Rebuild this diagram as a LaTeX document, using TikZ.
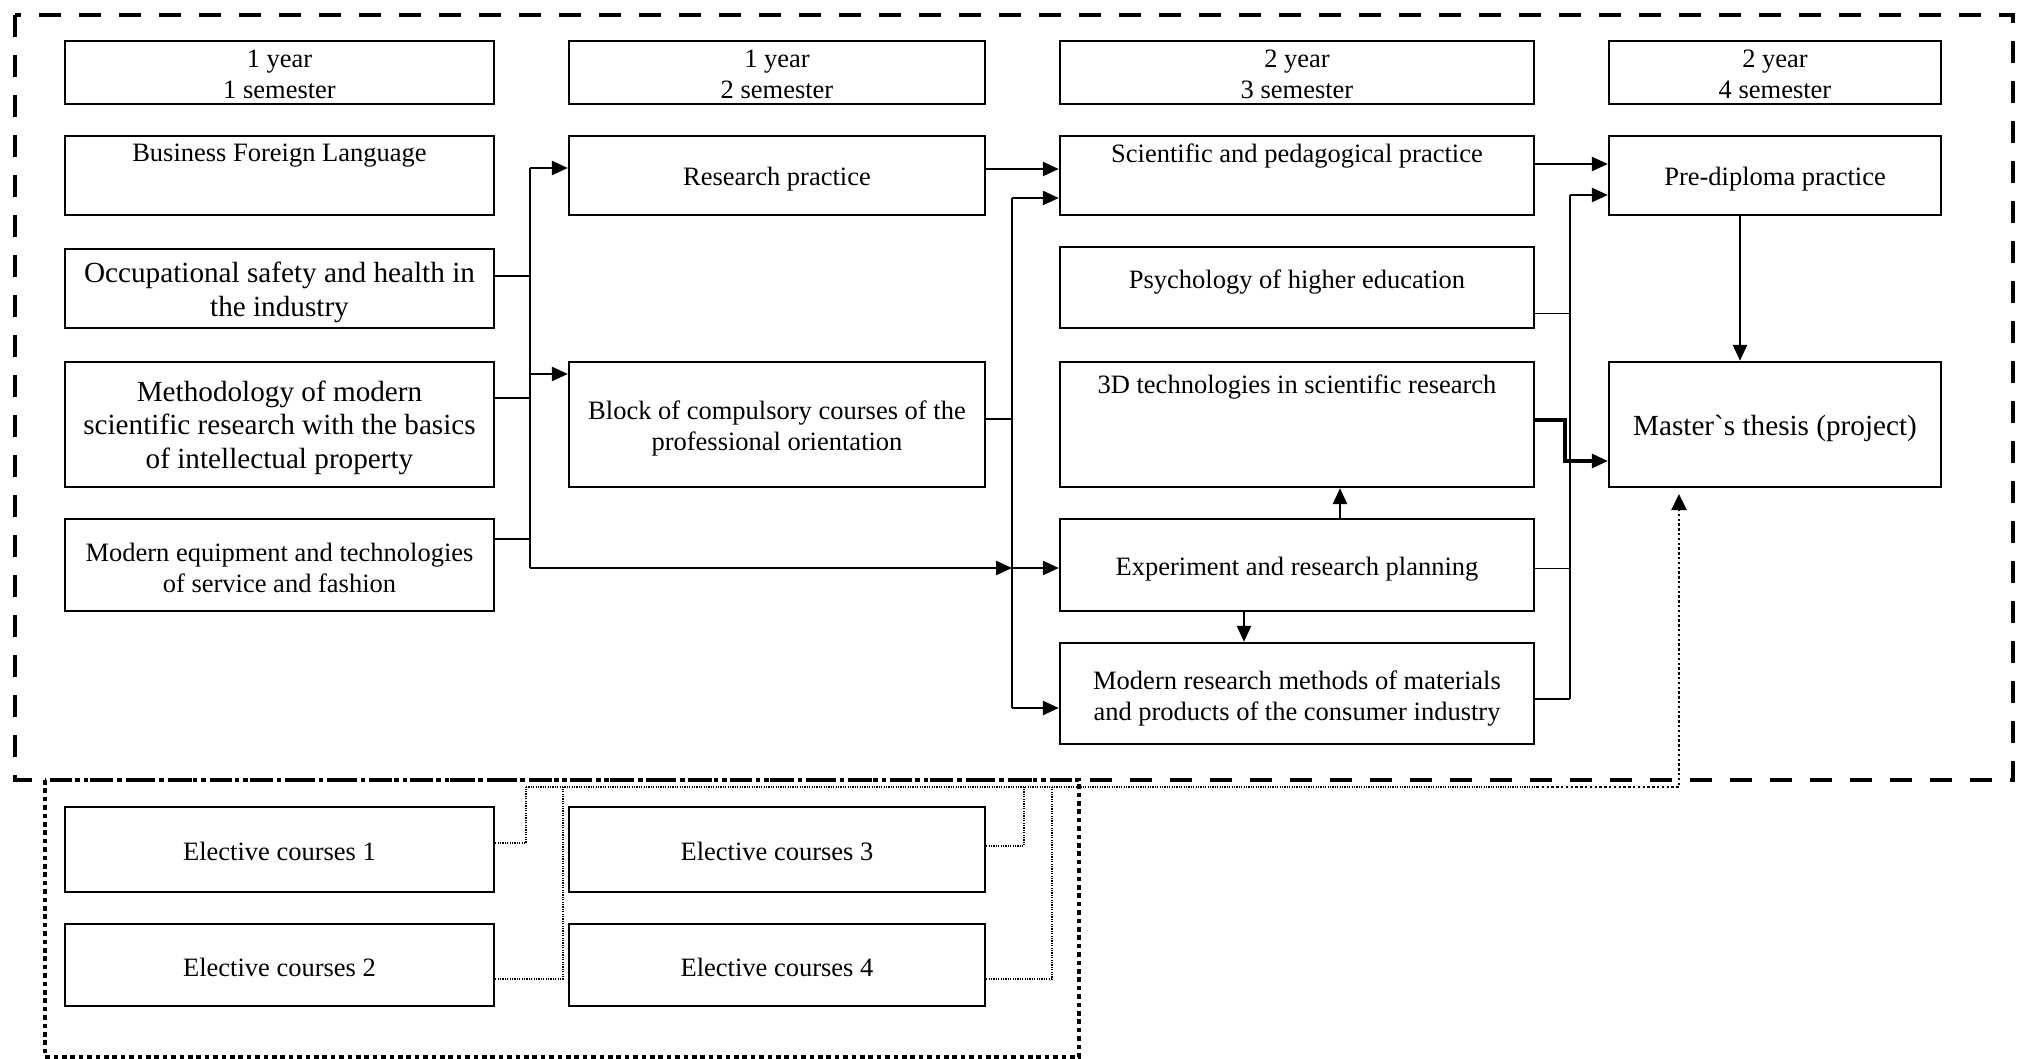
\documentclass[tikz,border=0pt]{standalone}
\usepackage{fontspec}
\setmainfont{Liberation Serif}
\usetikzlibrary{arrows.meta}
\newcommand\myNorm{\fontsize{13.25}{15.3}\selectfont}
\newcommand\myBig{\fontsize{14.6}{16.8}\selectfont}
\begin{document}
\begin{tikzpicture}[x=0.5pt,y=-0.5pt,
  box/.style={draw, line width=1.15pt, inner sep=0pt},
  txt/.style={inner sep=0pt, align=center, font=\myNorm},
  big/.style={font=\myBig},
  conn/.style={line width=1.25pt},
  feed/.style={line width=0.8pt},
  thinl/.style={line width=0.45pt},
  arr/.style={line width=1.25pt, -{Triangle[length=8pt,width=7pt]}},
  edot/.style={line width=0.6pt, dash pattern=on 0.6pt off 0.6pt},
  mdot/.style={line width=1.2pt, dash pattern=on 1.2pt off 1.2pt},
]
\useasboundingbox (0,0) rectangle (2026,1059);

% frames
\draw[line width=2.3pt, dash pattern=on 11pt off 9pt] (15,15) rectangle (2013,780);
\draw[line width=2pt, dash pattern=on 2.3pt off 1.9pt] (45,780) rectangle (1079,1057);

% headers
\node[box, minimum width=214.5pt, minimum height=31.5pt] (h1) at (279.5,72.5) {};
\node[txt] (h1-t) at ([yshift=-1pt]h1.center) {1 year\\1 semester};
\node[box, minimum width=208pt, minimum height=31.5pt] (h2) at (777,72.5) {};
\node[txt] (h2-t) at ([yshift=-1pt]h2.center) {1 year\\2 semester};
\node[box, minimum width=237pt, minimum height=31.5pt] (h3) at (1297,72.5) {};
\node[txt] (h3-t) at ([yshift=-1pt]h3.center) {2 year\\3 semester};
\node[box, minimum width=166pt, minimum height=31.5pt] (h4) at (1775,72.5) {};
\node[txt] (h4-t) at ([yshift=-1pt]h4.center) {2 year\\4 semester};

% column 1
\node[box, minimum width=214.5pt, minimum height=39.5pt] (bfl) at (279.5,175.5) {};
\node[txt] (bfl-t) at (279.5,156) {Business Foreign Language};
\node[box, minimum width=214.5pt, minimum height=39.5pt] (osh) at (279.5,288.5) {};
\node[txt, big] (osh-t) at ([yshift=-2pt]osh.center) {Occupational safety and health in\\the industry};
\node[box, minimum width=214.5pt, minimum height=62.5pt] (msr) at (279.5,424.5) {};
\node[txt, big] (msr-t) at ([yshift=-1.5pt]msr.center) {Methodology of modern\\scientific research with the basics\\of intellectual property};
\node[box, minimum width=214.5pt, minimum height=46pt] (met) at (279.5,565) {};
\node[txt] (met-t) at ([yshift=-1.5pt]met.center) {Modern equipment and technologies\\of service and fashion};

% column 2
\node[box, minimum width=208pt, minimum height=39.5pt] (rp) at (777,175.5) {};
\node[txt] (rp-t) at ([yshift=-2pt]rp.center) {Research practice};
\node[box, minimum width=208pt, minimum height=62.5pt] (bl) at (777,424.5) {};
\node[txt] (bl-t) at ([yshift=-2pt]bl.center) {Block of compulsory courses of the\\professional orientation};

% column 3
\node[box, minimum width=237pt, minimum height=39.5pt] (sp) at (1297,175.5) {};
\node[txt] (sp-t) at (1297,156) {Scientific and pedagogical practice};
\node[box, minimum width=237pt, minimum height=40.5pt] (ps) at (1297,287.5) {};
\node[txt] (ps-t) at (1297,282) {Psychology of higher education};
\node[box, minimum width=237pt, minimum height=62.5pt] (t3) at (1297,424.5) {};
\node[txt] (t3-t) at (1297,387) {3D technologies in scientific research};
\node[box, minimum width=237pt, minimum height=46pt] (ex) at (1297,565) {};
\node[txt] (ex-t) at ([yshift=-2pt]ex.center) {Experiment and research planning};
\node[box, minimum width=237pt, minimum height=50.5pt] (mr) at (1297,693.5) {};
\node[txt] (mr-t) at ([yshift=-2.5pt]mr.center) {Modern research methods of materials\\and products of the consumer industry};

% column 4
\node[box, minimum width=166pt, minimum height=39.5pt] (pd) at (1775,175.5) {};
\node[txt] (pd-t) at ([yshift=-2pt]pd.center) {Pre-diploma practice};
\node[box, minimum width=166pt, minimum height=62.5pt] (mt) at (1775,424.5) {};
\node[txt, big] (mt-t) at ([yshift=-2pt]mt.center) {Master\textasciigrave s thesis (project)};

% electives
\node[box, minimum width=214.5pt, minimum height=42.5pt] (e1) at (279.5,849.5) {};
\node[txt] (e1-t) at ([yshift=-1pt]e1.center) {Elective courses 1};
\node[box, minimum width=214.5pt, minimum height=41pt] (e2) at (279.5,965) {};
\node[txt] (e2-t) at ([yshift=-1pt]e2.center) {Elective courses 2};
\node[box, minimum width=208pt, minimum height=42.5pt] (e3) at (777,849.5) {};
\node[txt] (e3-t) at ([yshift=-1pt]e3.center) {Elective courses 3};
\node[box, minimum width=208pt, minimum height=41pt] (e4) at (777,965) {};
\node[txt] (e4-t) at ([yshift=-1pt]e4.center) {Elective courses 4};

% bus coordinates
\coordinate (busA-t) at (530,168);
\coordinate (busA-b) at (530,568);
\coordinate (busB-t) at (1012,198);
\coordinate (busB-b) at (1012,708);
\coordinate (busC-t) at (1570,195);
\coordinate (busC-b) at (1570,699);
\coordinate (j3) at (1565,461);
\coordinate (col-a) at (526,787);
\coordinate (col-m) at (1537,787);
\coordinate (col-b) at (1679,787);

% bus A (semester 1 -> 2)
\draw[conn] (busA-t) -- (busA-b);
\draw[feed] (osh.east |- 0,276) -- (busA-t |- 0,276);
\draw[feed] (msr.east |- 0,398) -- (busA-t |- 0,398);
\draw[feed] (met.east |- 0,539) -- (busA-t |- 0,539);
\draw[arr] (busA-t) -- (rp.west |- busA-t);
\draw[arr] (busA-t |- 0,374) -- (bl.west |- 0,374);
\draw[arr] (busA-b) -- (busB-t |- busA-b);

% bus B (semester 2 -> 3)
\draw[conn] (busB-t) -- (busB-b);
\draw[feed] (bl.east |- 0,419) -- (busB-t |- 0,419);
\draw[arr] (rp.east |- 0,169) -- (sp.west |- 0,169);
\draw[arr] (busB-t) -- (sp.west |- busB-t);
\draw[arr] (busB-t |- 0,568) -- (ex.west |- 0,568);
\draw[arr] (busB-b) -- (mr.west |- busB-b);

% inside semester 3
\draw[arr] (ex.north -| 1340,0) -- (t3.south -| 1340,0);
\draw[arr] (ex.south -| 1244,0) -- (mr.north -| 1244,0);

% bus C (semester 3 -> 4)
\draw[conn] (busC-t) -- (busC-b);
\draw[arr] (sp.east |- 0,164) -- (pd.west |- 0,164);
\draw[arr] (busC-t) -- (pd.west |- busC-t);
\draw[thinl] (ps.east |- 0,313) -- (busC-t |- 0,313);
\draw[thinl] (ex.east |- 0,568) -- (busC-t |- 0,568);
\draw[conn] (mr.east |- busC-b) -- (busC-b);
\draw[arr, line width=1.6pt] (t3.east |- 0,420) -| (j3) -- (mt.west |- j3);
\draw[arr] (pd.south -| 1740,0) -- (mt.north -| 1740,0);

% electives to thesis
\draw[edot] (e1.east |- 0,843) -| (col-a);
\draw[edot] (e2.east |- 0,979) -| (col-a -| 563,0);
\draw[edot] (e3.east |- 0,846) -| (col-a -| 1024,0);
\draw[edot] (e4.east |- 0,979) -| (col-a -| 1052,0);
\draw[edot] (col-a) -- (col-m);
\draw[mdot, -{Triangle[length=8pt,width=7.5pt]}] (col-m) -- (col-b) -- (col-b |- 0,494);
\end{tikzpicture}
\end{document}
